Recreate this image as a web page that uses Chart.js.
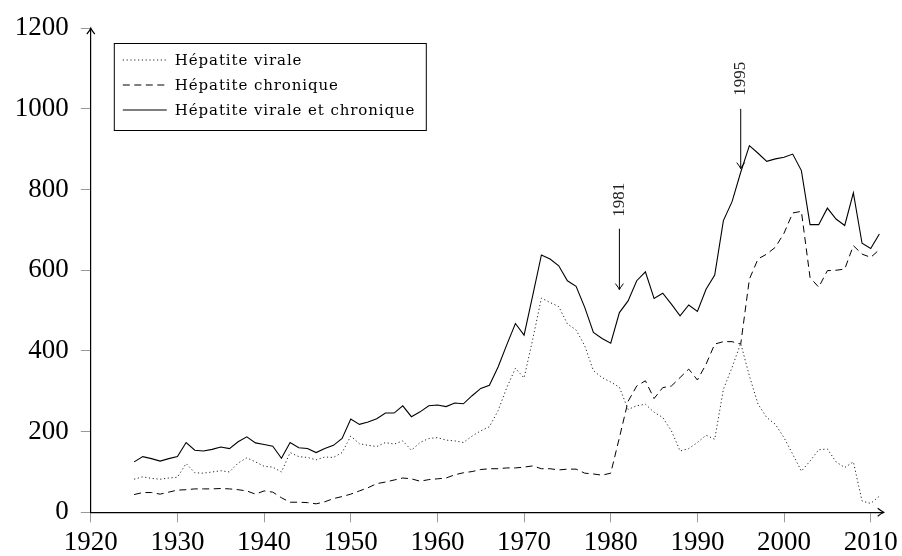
<!DOCTYPE html>
<html>
<head>
<meta charset="utf-8">
<script src="https://cdn.jsdelivr.net/npm/chart.js@4/dist/chart.umd.min.js"></script>
<style>
  html, body { margin: 0; padding: 0; background: #fff; }
  #wrap { width: 902px; height: 556px; }
</style>
</head>
<body>
<div id="wrap"><canvas id="c" width="902" height="556"></canvas></div>
<script>
// ---- data ----
const years = [];
for (let y = 1925; y <= 2011; y++) years.push(y);

const hepVirale = [
  82, 88, 84, 82, 85, 87, 121, 98, 97, 100,
  103, 100, 122, 135, 125, 114, 112, 100, 148, 138,
  136, 130, 137, 136, 148, 189, 170, 166, 163, 173,
  169, 177, 154, 173, 183, 185, 179, 177, 173, 189,
  202, 212, 252, 309, 357, 333, 429, 531, 520, 510,
  467, 452, 413, 351, 334, 323, 310, 255, 264, 268,
  248, 235, 202, 152, 158, 173, 191, 181, 305, 359,
  419, 338, 268, 235, 218, 185, 144, 102, 127, 155,
  157, 125, 111, 125, 28, 22, 40
];

const hepChronique = [
  44, 49, 49, 45, 50, 55, 56, 58, 58, 58,
  59, 58, 56, 53, 45, 53, 50, 36, 25, 25,
  24, 21, 26, 34, 39, 45, 53, 61, 71, 75,
  80, 85, 83, 77, 81, 83, 85, 93, 98, 101,
  106, 108, 108, 110, 110, 112, 115, 108, 108, 105,
  107, 107, 97, 95, 92, 97, 185, 275, 313, 326,
  282, 309, 313, 334, 355, 328, 367, 417, 423, 423,
  417, 578, 628, 640, 657, 692, 742, 746, 582, 558,
  599, 600, 603, 661, 640, 632, 651
];

const hepTotal = [
  125, 138, 133, 127, 133, 138, 173, 154, 152, 156,
  162, 158, 175, 187, 172, 168, 164, 134, 173, 160,
  158, 148, 158, 166, 183, 231, 218, 224, 232, 246,
  246, 264, 237, 249, 264, 266, 262, 271, 269, 289,
  307, 315, 360, 415, 468, 439, 538, 638, 628, 611,
  574, 560, 508, 446, 431, 419, 495, 524, 574, 596,
  530, 543, 516, 487, 514, 498, 553, 588, 723, 770,
  843, 909, 890, 870, 876, 880, 888, 847, 713, 713,
  754, 727, 711, 792, 667, 654, 690
];

const seriesLabels = ["Hépatite virale", "Hépatite chronique", "Hépatite virale et chronique"];
const xTickValues = [1920, 1930, 1940, 1950, 1960, 1970, 1980, 1990, 2000, 2010];
const yTickValues = [0, 200, 400, 600, 800, 1000, 1200];
const markYears = [1981, 1995];
const markLabels = ["1981", "1995"];

// ---- helpers ----
const toPts = vals => years.map((yr, i) => ({ x: yr, y: vals[i] }));

function arrowHead(ctx, x, y, dir) {
  ctx.save();
  ctx.translate(x, y);
  if (dir === 'up') ctx.rotate(-Math.PI / 2);
  if (dir === 'down') ctx.rotate(Math.PI / 2);
  ctx.beginPath();
  ctx.moveTo(-6, -4);
  ctx.quadraticCurveTo(-2, -0.8, 0, 0);
  ctx.quadraticCurveTo(-2, 0.8, -6, 4);
  ctx.stroke();
  ctx.restore();
}

const decoPlugin = {
  id: 'deco',
  afterDraw(chart) {
    const ctx = chart.ctx;
    const xs = chart.scales.x, ys = chart.scales.y;
    const ca = chart.chartArea;
    ctx.save();
    ctx.strokeStyle = '#000';
    ctx.lineWidth = 1.2;
    arrowHead(ctx, ca.right, ys.getPixelForValue(0), 'right');
    arrowHead(ctx, xs.getPixelForValue(1920), ca.top, 'up');

    const arrowSpans = [[703, 552], [1000, 852]];
    const textCenters = [775, 1075];
    ctx.lineWidth = 1;
    markYears.forEach((yr, i) => {
      const px = xs.getPixelForValue(yr);
      const y1 = ys.getPixelForValue(arrowSpans[i][0]);
      const y2 = ys.getPixelForValue(arrowSpans[i][1]);
      ctx.beginPath();
      ctx.moveTo(px, y1);
      ctx.lineTo(px, y2);
      ctx.stroke();
      arrowHead(ctx, px, y2, 'down');
      ctx.save();
      ctx.translate(px, ys.getPixelForValue(textCenters[i]));
      ctx.rotate(-Math.PI / 2);
      ctx.fillStyle = '#222';
      ctx.font = '17px "Liberation Serif"';
      ctx.textAlign = 'center';
      ctx.textBaseline = 'middle';
      ctx.fillText(markLabels[i], 0, 0);
      ctx.restore();
    });

    const bx = ca.left + 23, by = 43, bw = 312, bh = 87;
    ctx.fillStyle = '#fff';
    ctx.fillRect(bx, by, bw, bh);
    ctx.strokeStyle = '#000';
    ctx.lineWidth = 1;
    ctx.strokeRect(bx + 0.5, by + 0.5, bw, bh);
    const rowY = [60, 85, 110];
    chart.data.datasets.forEach((ds, i) => {
      ctx.save();
      ctx.strokeStyle = ds.borderColor;
      ctx.lineWidth = ds.borderWidth;
      ctx.setLineDash(ds.borderDash || []);
      ctx.beginPath();
      ctx.moveTo(bx + 9, rowY[i]);
      ctx.lineTo(bx + 53, rowY[i]);
      ctx.stroke();
      ctx.restore();
      ctx.save();
      ctx.fillStyle = '#000';
      ctx.font = '15px "DejaVu Serif"';
      if ('letterSpacing' in ctx) ctx.letterSpacing = '0.9px';
      ctx.textAlign = 'left';
      ctx.textBaseline = 'middle';
      ctx.fillText(ds.label, bx + 61, rowY[i] + 1);
      ctx.restore();
    });
    ctx.restore();
  }
};

new Chart(document.getElementById('c'), {
  type: 'line',
  data: {
    datasets: [
      { label: seriesLabels[0], data: toPts(hepVirale), borderColor: '#222', borderWidth: 1, borderDash: [1.2, 2.6], pointRadius: 0, fill: false, tension: 0 },
      { label: seriesLabels[1], data: toPts(hepChronique), borderColor: '#000', borderWidth: 1, borderDash: [7, 4.5], pointRadius: 0, fill: false, tension: 0 },
      { label: seriesLabels[2], data: toPts(hepTotal), borderColor: '#000', borderWidth: 1.1, pointRadius: 0, fill: false, tension: 0 }
    ]
  },
  options: {
    responsive: false,
    animation: false,
    devicePixelRatio: 1,
    layout: { padding: { top: 27, right: 18, left: 0, bottom: 0 } },
    plugins: { legend: { display: false }, tooltip: { enabled: false } },
    scales: {
      x: {
        type: 'linear',
        min: 1920,
        max: 2011.5,
        afterBuildTicks: s => { s.ticks = xTickValues.map(v => ({ value: v })); },
        afterFit: s => { s.height = 43.7; },
        ticks: {
          callback: v => String(v),
          font: { family: 'Liberation Serif', size: 27 },
          color: '#000',
          padding: 4,
          maxRotation: 0,
          autoSkip: false
        },
        grid: { drawOnChartArea: false, tickLength: 10, color: '#999', lineWidth: 1 },
        border: { color: '#000', width: 1.2 }
      },
      y: {
        type: 'linear',
        min: 0,
        max: 1200,
        afterBuildTicks: s => { s.ticks = yTickValues.map(v => ({ value: v })); },
        afterFit: s => { s.width = 90.8; },
        ticks: {
          callback: v => String(v),
          font: { family: 'Liberation Serif', size: 27 },
          color: '#000',
          padding: 12
        },
        grid: { drawOnChartArea: false, tickLength: 10, color: '#999', lineWidth: 1 },
        border: { color: '#000', width: 1.2 }
      }
    }
  },
  plugins: [decoPlugin]
});
</script>
</body>
</html>
